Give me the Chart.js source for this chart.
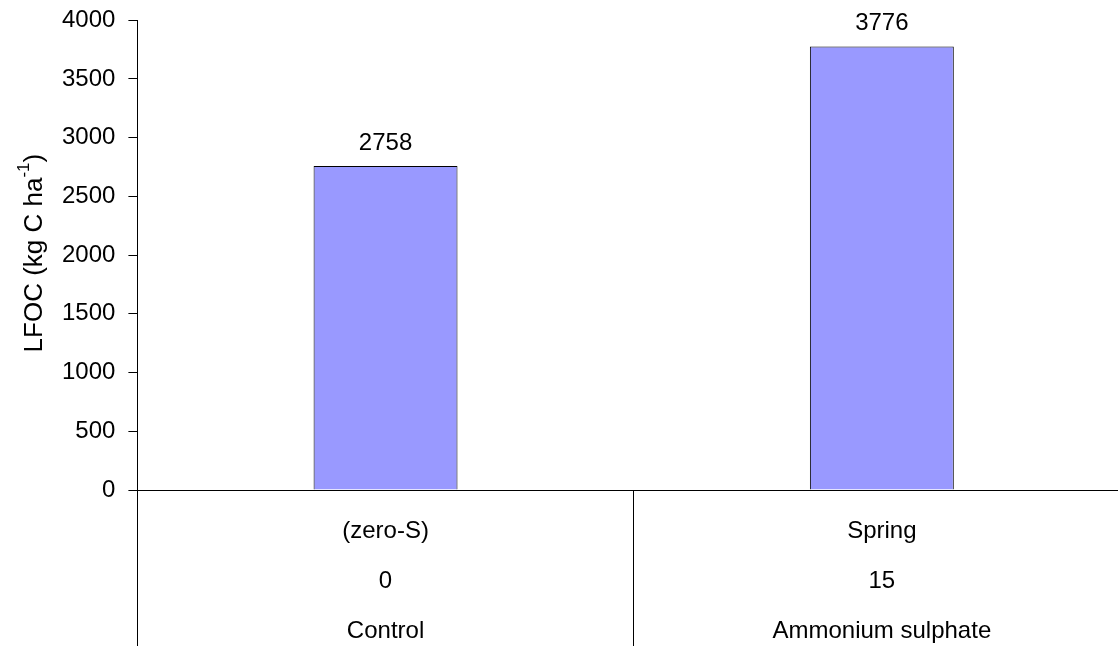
<!DOCTYPE html>
<html>
<head>
<meta charset="utf-8">
<script src="https://cdn.jsdelivr.net/npm/chart.js@4"></script>
<style>
  html, body { margin: 0; padding: 0; background: #fff; overflow: hidden; }
  #wrap { width: 1118px; height: 646px; overflow: hidden; }
</style>
</head>
<body>
<div id="wrap"><canvas id="lfocChart" width="1130" height="646"></canvas></div>
<script>
// treatment labels, one row per line under the axis
const rowSeason = ['(zero-S)', 'Spring'];
const rowRate = ['0', '15'];
const rowSource = ['Control', 'Ammonium sulphate'];
const lfocValues = [2758, 3776];
const yTicks = [0, 500, 1000, 1500, 2000, 2500, 3000, 3500, 4000];

const labels = rowSeason.map((s, i) => [s, rowRate[i], rowSource[i]]);
const FONT = '"Liberation Sans", Arial, sans-serif';

// value labels above the bars
const barValues = {
    id: 'barValues',
    afterDatasetsDraw(chart) {
        const ctx = chart.ctx;
        const meta = chart.getDatasetMeta(0);
        ctx.save();
        ctx.font = '24px ' + FONT;
        ctx.fillStyle = '#000';
        ctx.textAlign = 'center';
        ctx.textBaseline = 'middle';
        meta.data.forEach((bar, i) => {
            ctx.fillText(String(lfocValues[i]), bar.x, bar.y - 23);
        });
        ctx.restore();
    }
};

// y title with a real superscript on "ha-1"
const yTitle = {
    id: 'yTitle',
    afterDraw(chart) {
        const ctx = chart.ctx;
        const area = chart.chartArea;
        const parts = [
            { t: 'LFOC (kg C ha', size: 26, rise: 0 },
            { t: '-1', size: 17, rise: 11 },
            { t: ')', size: 26, rise: 0 }
        ];
        ctx.save();
        let total = 0;
        parts.forEach(p => {
            ctx.font = p.size + 'px ' + FONT;
            p.w = ctx.measureText(p.t).width;
            total += p.w;
        });
        ctx.translate(35, (area.top + area.bottom) / 2 - 2);
        ctx.rotate(-Math.PI / 2);
        ctx.fillStyle = '#000';
        ctx.textBaseline = 'middle';
        ctx.textAlign = 'left';
        let x = -total / 2;
        parts.forEach(p => {
            ctx.font = p.size + 'px ' + FONT;
            ctx.fillText(p.t, x, -p.rise);
            x += p.w;
        });
        ctx.restore();
    }
};

const ctx = document.getElementById('lfocChart').getContext('2d');
new Chart(ctx, {
    type: 'bar',
    data: {
        labels,
        datasets: [{
            data: lfocValues,
            backgroundColor: '#9999ff',
            borderColor: '#000',
            borderWidth: 1,
            borderSkipped: 'bottom',
            barPercentage: 1,
            categoryPercentage: 0.29
        }]
    },
    options: {
        responsive: false,
        animation: false,
        layout: { padding: { top: 0, left: 49, right: 0, bottom: 0 } },
        plugins: {
            legend: { display: false },
            tooltip: { enabled: false }
        },
        scales: {
            x: {
                border: { color: '#000', width: 1 },
                grid: {
                    offset: true,
                    drawOnChartArea: false,
                    drawTicks: true,
                    tickLength: 156,
                    color: '#000'
                },
                ticks: {
                    color: '#000',
                    padding: -140,
                    maxRotation: 0,
                    autoSkip: false,
                    font: { family: FONT, size: 24, lineHeight: 50 / 24 }
                },
                // keep the box tall enough so the three label rows are not clipped
                afterFit(scale) {
                    scale.height = 156;
                }
            },
            y: {
                min: 0,
                max: 4000,
                afterBuildTicks(scale) {
                    scale.ticks = yTicks.map(v => ({ value: v }));
                },
                border: { color: '#000', width: 1 },
                grid: {
                    drawOnChartArea: false,
                    drawTicks: true,
                    tickLength: 9,
                    color: '#000'
                },
                ticks: {
                    color: '#000',
                    padding: 13,
                    callback: v => String(v),
                    font: { family: FONT, size: 24, lineHeight: 0.6 }
                }
            }
        }
    },
    plugins: [barValues, yTitle]
});
</script>
</body>
</html>
